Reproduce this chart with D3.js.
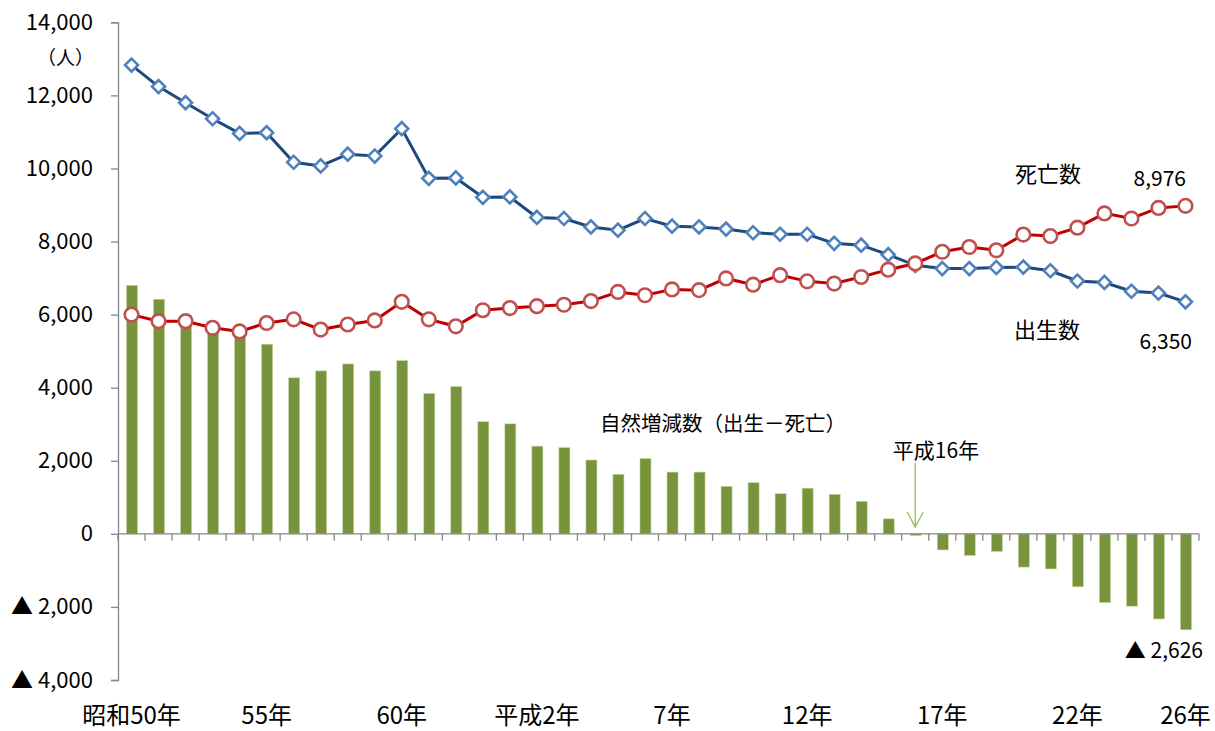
<!DOCTYPE html>
<html>
<head>
<meta charset="utf-8">
<script src="https://cdn.jsdelivr.net/npm/d3@7"></script>
<style>
  body { margin: 0; background: #fff; }
  text { font-family: "Noto Sans CJK JP", "Noto Sans", sans-serif; fill: #000; }
</style>
</head>
<body>
<svg id="chart" width="1215" height="731"></svg>
<script>
// years 昭和50年 .. 平成26年
const years = ["S50","S51","S52","S53","S54","S55","S56","S57","S58","S59",
  "S60","S61","S62","S63","H1","H2","H3","H4","H5","H6",
  "H7","H8","H9","H10","H11","H12","H13","H14","H15","H16",
  "H17","H18","H19","H20","H21","H22","H23","H24","H25","H26"];

// 出生数
const births = [12830, 12240, 11800, 11360, 10960, 10980, 10170, 10070, 10390, 10340,
  11090, 9730, 9740, 9210, 9220, 8660, 8630, 8400, 8310, 8630,
  8420, 8400, 8340, 8240, 8200, 8200, 7950, 7900, 7640, 7350,
  7260, 7260, 7290, 7300, 7200, 6920, 6880, 6640, 6590, 6350];

// 死亡数
const deaths = [6000, 5820, 5820, 5640, 5540, 5770, 5870, 5590, 5730, 5840,
  6350, 5870, 5680, 6120, 6180, 6230, 6270, 6370, 6620, 6530,
  6690, 6670, 6990, 6820, 7080, 6910, 6850, 7030, 7230, 7400,
  7720, 7850, 7760, 8190, 8150, 8380, 8770, 8630, 8920, 8976];

// 自然増減数（出生－死亡）
const natural = [6800, 6420, 5980, 5720, 5420, 5190, 4270, 4460, 4650, 4460,
  4740, 3840, 4030, 3070, 3010, 2400, 2360, 2020, 1630, 2060,
  1690, 1690, 1300, 1400, 1100, 1250, 1080, 890, 410, -45,
  -440, -590, -480, -910, -960, -1450, -1880, -1980, -2330, -2626];

const yTicks = [-4000, -2000, 0, 2000, 4000, 6000, 8000, 10000, 12000, 14000];
const tickIdx = [0, 5, 10, 15, 20, 25, 30, 35, 39];
const tickText = ["昭和50年", "55年", "60年", "平成2年", "7年", "12年", "17年", "22年", "26年"];

const svg = d3.select("#chart");
const mLeft = 118, mRight = 1199, mTop = 22.3, mBottom = 680;

const x = d3.scaleBand().domain(d3.range(years.length)).range([mLeft, mRight]).padding(0);
const cx = i => x(i) + x.bandwidth() / 2;
const y = d3.scaleLinear().domain([-4000, 14000]).range([mBottom, mTop]);

const fmt = d3.format(",");
const yFmt = d => d < 0 ? "▲ " + fmt(-d) : fmt(d);

// y axis
const yAxis = svg.append("g").attr("transform", `translate(${mLeft},0)`)
  .call(d3.axisLeft(y).tickValues(yTicks).tickFormat(yFmt).tickSize(7).tickPadding(18));
yAxis.select(".domain").attr("stroke", "#868686").attr("stroke-width", 1.3);
yAxis.selectAll(".tick line").attr("stroke", "#868686").attr("stroke-width", 1.3);
yAxis.selectAll(".tick text").style("font-size", "22px").attr("fill", "#000")
  .style("font-family", "Noto Sans CJK JP, sans-serif");

// bars
svg.append("g").selectAll("rect").data(natural).join("rect")
  .attr("x", (d, i) => cx(i) - 5)
  .attr("width", 11)
  .attr("y", d => y(Math.max(0, d)))
  .attr("height", d => Math.abs(y(d) - y(0)))
  .attr("fill", "#77933c")
  .attr("stroke", "#c3d69b").attr("stroke-width", 0.6);

// x axis at zero
const xAxis = svg.append("g").attr("transform", `translate(0,${y(0)})`);
xAxis.append("line").attr("x1", mLeft).attr("x2", mRight).attr("stroke", "#868686").attr("stroke-width", 1.3);
xAxis.selectAll("line.tk").data(d3.range(years.length + 1)).join("line")
  .attr("class", "tk")
  .attr("x1", i => mLeft + i * x.bandwidth()).attr("x2", i => mLeft + i * x.bandwidth())
  .attr("y1", 0).attr("y2", 7).attr("stroke", "#868686").attr("stroke-width", 1.3);

// x tick labels at bottom
svg.append("g").selectAll("text").data(tickIdx).join("text")
  .attr("x", i => cx(i)).attr("y", 713)
  .attr("text-anchor", "middle")
  .attr("dominant-baseline", "central")
  .style("font-size", "24px")
  .text((d, k) => tickText[k]);

// lines
const line = d3.line().x((d, i) => cx(i)).y(d => y(d));

svg.append("path").datum(births).attr("d", line)
  .attr("fill", "none").attr("stroke", "#1f497d").attr("stroke-width", 3);
svg.append("g").selectAll("path").data(births).join("path")
  .attr("transform", (d, i) => `translate(${cx(i)},${y(d)}) rotate(45)`)
  .attr("d", "M-4.6,-4.6H4.6V4.6H-4.6Z")
  .attr("fill", "#fff").attr("stroke", "#4f81bd").attr("stroke-width", 2.6);

svg.append("path").datum(deaths).attr("d", line)
  .attr("fill", "none").attr("stroke", "#c00000").attr("stroke-width", 3);
svg.append("g").selectAll("circle").data(deaths).join("circle")
  .attr("cx", (d, i) => cx(i)).attr("cy", d => y(d)).attr("r", 6.8)
  .attr("fill", "#fff").attr("stroke", "#c0504d").attr("stroke-width", 2.6);

// annotations
const note = (tx, ty, t, size, anchor) => svg.append("text")
  .attr("x", tx).attr("y", ty).attr("text-anchor", anchor || "start")
  .attr("dominant-baseline", "central")
  .style("font-size", size + "px").text(t);

note(94, 56, "（人）", 19, "end");
note(1015, 172, "死亡数", 22);
note(1186, 177, fmt(deaths[deaths.length - 1]), 21, "end");
note(1014, 328, "出生数", 22);
note(1192, 340, fmt(births[births.length - 1]), 21, "end");
note(600, 422, "自然増減数（出生－死亡）", 20.5);
note(936, 449, "平成16年", 21, "middle");
note(1203, 649, "▲ " + fmt(-natural[natural.length - 1]), 21, "end");

// arrow at 平成16年
const ax = cx(29);
svg.append("line").attr("x1", ax).attr("x2", ax).attr("y1", 463).attr("y2", 527)
  .attr("stroke", "#9bbb59").attr("stroke-width", 1.3);
svg.append("path").attr("d", `M${ax - 8},${512}L${ax},${527}L${ax + 8},${512}`)
  .attr("fill", "none").attr("stroke", "#9bbb59").attr("stroke-width", 1.3);
</script>
</body>
</html>
